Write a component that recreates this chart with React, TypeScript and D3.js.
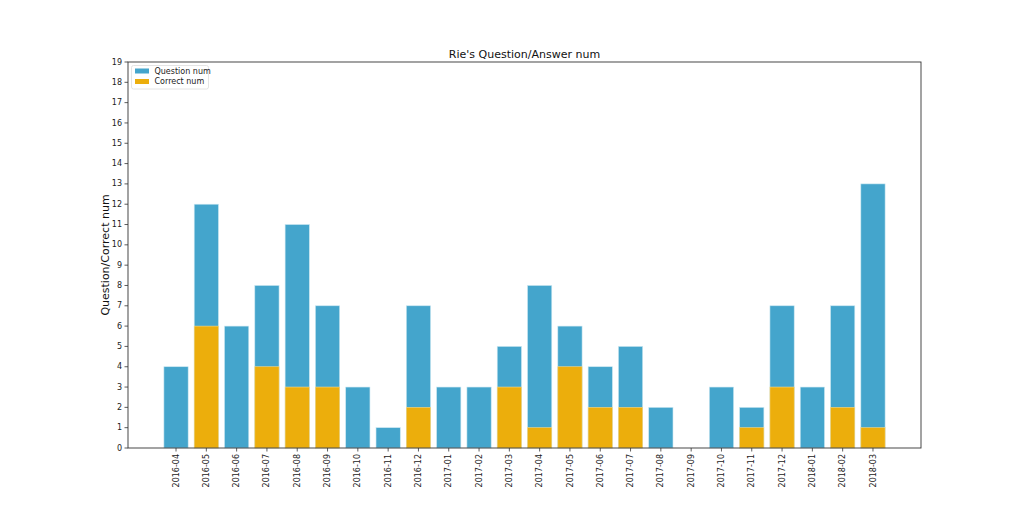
import React from "react";
import * as d3 from "d3";

const months = ["2016-04","2016-05","2016-06","2016-07","2016-08","2016-09","2016-10","2016-11","2016-12","2017-01","2017-02","2017-03","2017-04","2017-05","2017-06","2017-07","2017-08","2017-09","2017-10","2017-11","2017-12","2018-01","2018-02","2018-03"];
const questionNum = [4,12,6,8,11,7,3,1,7,3,3,5,8,6,4,5,2,0,3,2,7,3,7,13];
const correctNum = [0,6,0,4,3,3,0,0,2,0,0,3,1,4,2,2,0,0,0,1,3,0,2,1];
const yTicks = d3.range(0, 20);

const W = 1024, H = 512;
const L = 128, R = 921, T = 62, B = 448;
const BLUE = "#44a5cc", ORANGE = "#ecae0c";
const FONT = "DejaVu Sans, sans-serif";

export default function App() {
  const pad = 1.585;
  const x = d3.scaleLinear().domain([-pad, months.length - 1 + pad]).range([L, R]);
  const y = d3.scaleLinear().domain([0, 19]).range([B, T]);
  const bw = (x(1) - x(0)) * 0.8;
  return (
    <svg width={W} height={H} style={{ position: "absolute", left: 0, top: 0 }} fontFamily={FONT}>
      <rect width={W} height={H} fill="#fff" />
      {months.map((m, i) => (
        <rect key={"q" + m} x={x(i) - bw / 2} y={y(questionNum[i])} width={bw} height={y(0) - y(questionNum[i])} fill={BLUE} stroke="#c9e6f1" strokeWidth={0.6} />
      ))}
      {months.map((m, i) => correctNum[i] > 0 ? (
        <rect key={"c" + m} x={x(i) - bw / 2} y={y(correctNum[i])} width={bw} height={y(0) - y(correctNum[i])} fill={ORANGE} stroke="#f5d98a" strokeWidth={0.6} />
      ) : null)}
      <rect x={L} y={T} width={R - L} height={B - T} fill="none" stroke="#333" strokeWidth={0.9} />
      {yTicks.map(t => (
        <g key={"y" + t}>
          <line x1={L - 3.5} x2={L} y1={y(t)} y2={y(t)} stroke="#333" strokeWidth={0.8} />
          <text x={L - 6} y={y(t)} dy="0.32em" textAnchor="end" fontSize={8} fill="#222">{t}</text>
        </g>
      ))}
      {months.map((m, i) => (
        <g key={"x" + m}>
          <line x1={x(i)} x2={x(i)} y1={B} y2={B + 3.5} stroke="#333" strokeWidth={0.8} />
          <text transform={`translate(${x(i)},${B + 6}) rotate(-90)`} textAnchor="end" dy="0.32em" fontSize={8} fill="#222">{m}</text>
        </g>
      ))}
      <text x={(L + R) / 2} y={57.5} textAnchor="middle" fontSize={11} fill="#111">Rie's Question/Answer num</text>
      <text transform={`translate(109,${(T + B) / 2}) rotate(-90)`} textAnchor="middle" fontSize={11} fill="#111">Question/Correct num</text>
      <g>
        <rect x={131.5} y={65.5} width={77} height={23.5} fill="#fff" stroke="#ddd" strokeWidth={0.8} rx={2} />
        <rect x={135} y={68.5} width={14} height={5} fill={BLUE} />
        <text x={154.5} y={71} dy="0.32em" fontSize={8} fill="#222">Question num</text>
        <rect x={135} y={79} width={14} height={5} fill={ORANGE} />
        <text x={154.5} y={81.5} dy="0.32em" fontSize={8} fill="#222">Correct num</text>
      </g>
    </svg>
  );
}
